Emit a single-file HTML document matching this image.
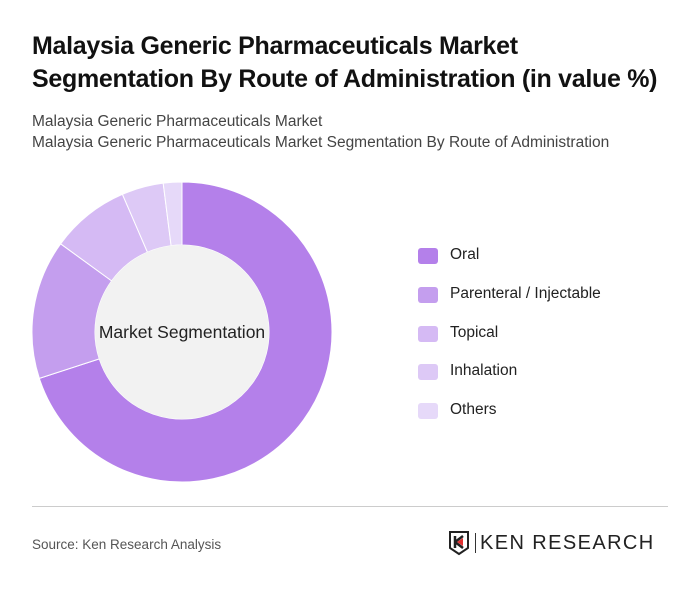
<!DOCTYPE html>
<html><head><meta charset="utf-8"><style>
body{margin:0;background:#fff;font-family:"Liberation Sans",sans-serif;}
#wrap{position:relative;width:700px;height:591px;overflow:hidden;background:#fff;}
h1{position:absolute;left:32px;top:30px;margin:0;font-size:25px;line-height:33px;font-weight:bold;color:#111;letter-spacing:-0.3px;}
.sub{position:absolute;left:32px;font-size:15.5px;color:#444;white-space:nowrap;}
.leg{position:absolute;left:418px;font-size:15.5px;color:#222;}
.leg span.sw{position:absolute;left:0;top:0;width:20px;height:16px;border-radius:3px;}
.leg span.t{position:absolute;left:32px;top:-2px;white-space:nowrap;}
</style></head><body>
<div id="wrap">
<h1>Malaysia Generic Pharmaceuticals Market<br>Segmentation By Route of Administration (in value %)</h1>
<div class="sub" style="top:113px">Malaysia Generic Pharmaceuticals Market</div>
<div class="sub" style="top:134px">Malaysia Generic Pharmaceuticals Market Segmentation By Route of Administration</div>
<svg id="donut" width="700" height="591" style="position:absolute;left:0;top:0"></svg>
<div id="legend"></div>
<div style="position:absolute;left:32px;top:506px;width:636px;height:1px;background:#ccc"></div>
<div class="sub" style="top:537px;font-size:13.5px;color:#555">Source: Ken Research Analysis</div>
<div style="position:absolute;left:448px;top:530px;width:222px;height:26px">
<svg width="22" height="26" style="position:absolute;left:0;top:0"><path d="M2 2H20V18L11 24L2 18Z" fill="none" stroke="#222" stroke-width="2"/><path d="M7 6V18M7 12L15 6M7 12L15 18" stroke="#222" stroke-width="2.5" fill="none"/><path d="M9 12L15 8V16Z" fill="#e03030"/></svg>
<div style="position:absolute;left:27px;top:3px;width:1px;height:20px;background:#333"></div>
<div style="position:absolute;left:32px;top:2px;font-size:20px;letter-spacing:1.4px;color:#222;white-space:nowrap">KEN RESEARCH</div>
</div>
</div>
<script>
const categories=["Oral","Parenteral / Injectable","Topical","Inhalation","Others"];
const values=[70,15,8.5,4.5,2];
const colors=["#b480ea","#c49eee","#d5baf4","#ddc9f6","#e6d9f9"];
const svg=document.getElementById('donut');
const NS="http://www.w3.org/2000/svg";
const cx=182,cy=332,R=150,r=87;
const total=values.reduce((a,b)=>a+b,0);
let a0=0;
function pt(a,rad){return [cx+rad*Math.sin(a),cy-rad*Math.cos(a)];}
values.forEach((v,i)=>{
  const a1=a0+v/total*2*Math.PI;
  const [x1,y1]=pt(a0,R),[x2,y2]=pt(a1,R),[x3,y3]=pt(a1,r),[x4,y4]=pt(a0,r);
  const lg=(a1-a0)>Math.PI?1:0;
  const p=document.createElementNS(NS,'path');
  p.setAttribute('d',`M${x1},${y1}A${R},${R} 0 ${lg} 1 ${x2},${y2}L${x3},${y3}A${r},${r} 0 ${lg} 0 ${x4},${y4}Z`);
  p.setAttribute('fill',colors[i]);p.setAttribute('stroke','#fff');p.setAttribute('stroke-width','1');
  
  
  svg.appendChild(p);a0=a1;
});
const c=document.createElementNS(NS,'circle');
c.setAttribute('cx',cx);c.setAttribute('cy',cy);c.setAttribute('r',r);c.setAttribute('fill','#f2f2f2');


svg.appendChild(c);
const t=document.createElementNS(NS,'text');
t.setAttribute('x',cx);t.setAttribute('y',cy+6);t.setAttribute('text-anchor','middle');
t.setAttribute('font-size','17.5');t.setAttribute('fill','#222');t.setAttribute('font-family','Liberation Sans, sans-serif');
t.textContent='Market Segmentation';


svg.appendChild(t);
const lg=document.getElementById('legend');
categories.forEach((n,i)=>{
  const d=document.createElement('div');d.className='leg';d.style.top=(248+i*38.8)+'px';
  d.innerHTML=`<span class="sw" style="background:${colors[i]}"></span><span class="t">${n}</span>`;
  
  
  lg.appendChild(d);
});
</script>
</body></html>
